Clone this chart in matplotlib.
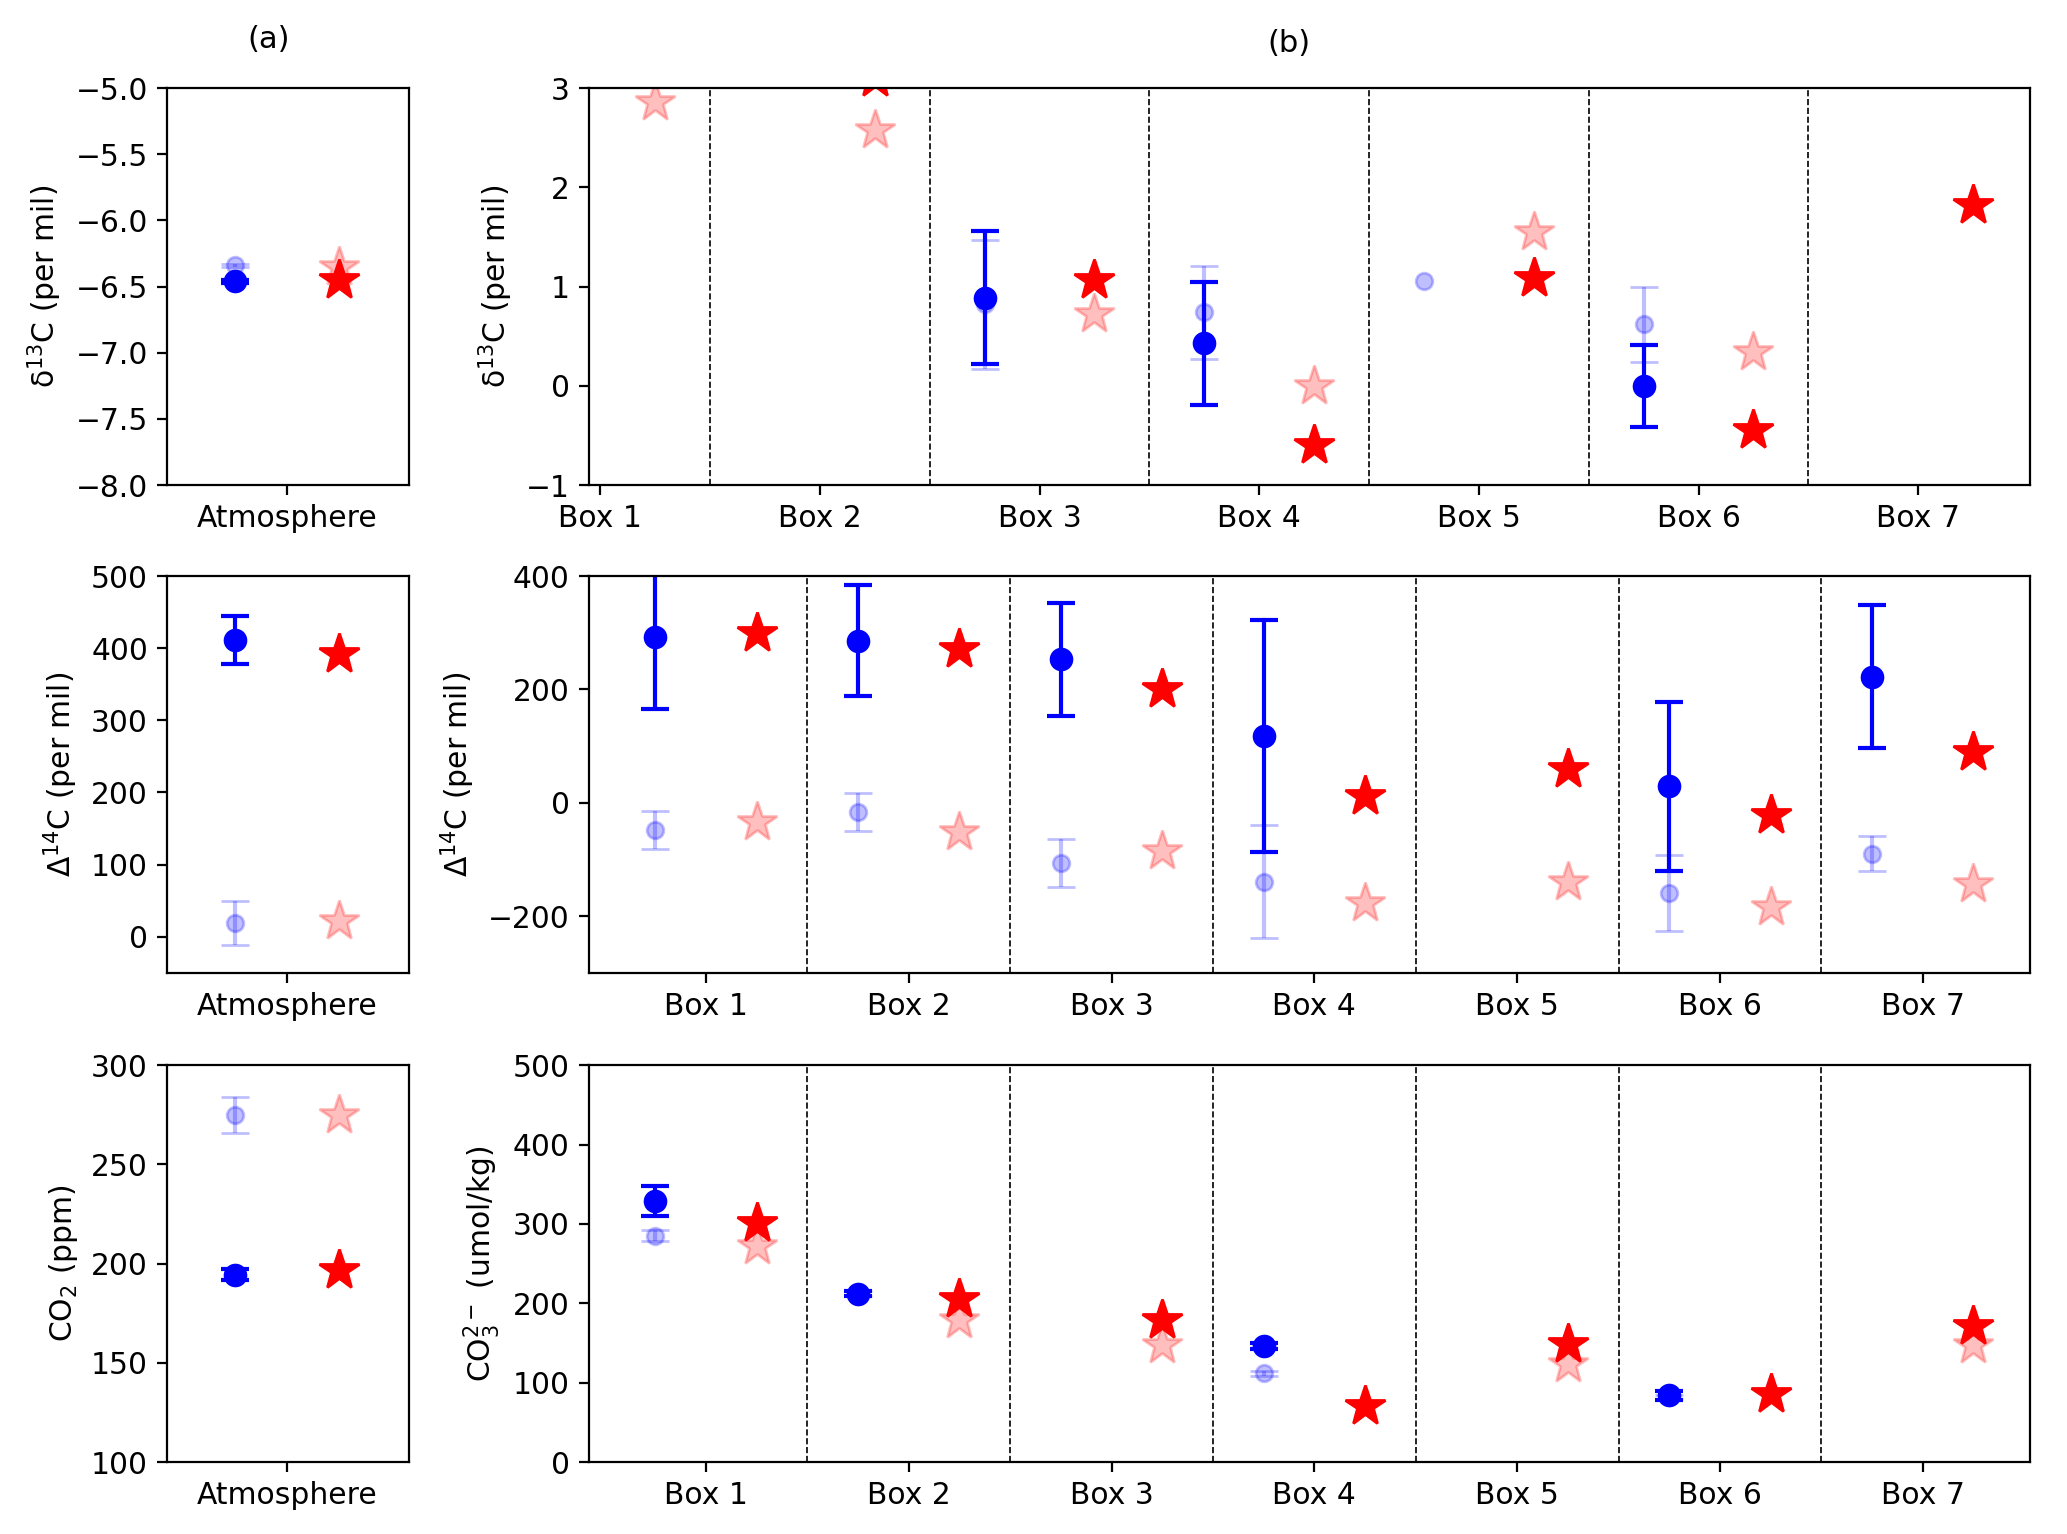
import numpy as np
import matplotlib.pyplot as plt

plt.rcParams['font.size'] = 10.7

nan = np.nan
boxes = ['Box 1', 'Box 2', 'Box 3', 'Box 4', 'Box 5', 'Box 6', 'Box 7']

# delta13C (per mil)
atm_d13c_lgm, atm_d13c_lgm_err = [-6.46], [0.01]
atm_d13c_pi, atm_d13c_pi_err = [-6.34], [0.01]
atm_d13c_mod_lgm, atm_d13c_mod_pi = [-6.45], [-6.35]
box_d13c_lgm = [nan, nan, 0.89, 0.43, nan, 0.0, nan]
box_d13c_lgm_err = [nan, nan, 0.67, 0.62, nan, 0.41, nan]
box_d13c_pi = [nan, nan, 0.82, 0.74, 1.06, 0.62, nan]
box_d13c_pi_err = [nan, nan, 0.65, 0.47, nan, 0.38, nan]
box_d13c_mod_lgm = [nan, 3.1, 1.07, -0.60, 1.09, -0.45, 1.82]
box_d13c_mod_pi = [2.86, 2.58, 0.72, 0.0, 1.55, 0.34, nan]

# Delta14C (per mil)
atm_D14c_lgm, atm_D14c_lgm_err = [411], [33]
atm_D14c_pi, atm_D14c_pi_err = [19], [31]
atm_D14c_mod_lgm, atm_D14c_mod_pi = [392], [22]
box_D14c_lgm = [292, 286, 253, 118, nan, 29, 222]
box_D14c_lgm_err = [126, 98, 100, 205, nan, 149, 126]
box_D14c_pi = [-48, -16, -106, -139, nan, -159, -90]
box_D14c_pi_err = [34, 33, 43, 100, nan, 67, 31]
box_D14c_mod_lgm = [300, 272, 200, 12, 60, -21, 89]
box_D14c_mod_pi = [-34, -52, -85, -177, -140, -184, -143]

# CO2 (ppm) and carbonate ion (umol/kg)
atm_co2_lgm, atm_co2_lgm_err = [194.5], [3]
atm_co2_pi, atm_co2_pi_err = [275], [9]
atm_co2_mod_lgm, atm_co2_mod_pi = [197], [275]
box_co3_lgm = [329, 212, nan, 146, nan, 84, nan]
box_co3_lgm_err = [19, 3, nan, 4, nan, 6, nan]
box_co3_pi = [285, 212, nan, 112, nan, 82, nan]
box_co3_pi_err = [7, 3, nan, 3, nan, 3, nan]
box_co3_mod_lgm = [301, 205, 179, 71, 149, 86, 172]
box_co3_mod_pi = [272, 179, 148, nan, 124, nan, 147]


def draw(ax, x, obs, obs_err, obs_pi, obs_pi_err, mod, mod_pi):
    x = np.asarray(x, dtype=float)
    ax.errorbar(x - 0.25, obs, yerr=obs_err, fmt='o', color='b', ms=7.5,
                capsize=5, elinewidth=1.5, capthick=1.5)
    ax.errorbar(x - 0.25, obs_pi, yerr=obs_pi_err, fmt='o', color='b', ms=6,
                capsize=5, alpha=0.25)
    ax.plot(x + 0.25, mod, '*', color='r', ms=15)
    ax.plot(x + 0.25, mod_pi, '*', color='r', ms=15, alpha=0.25)


fig = plt.figure(figsize=(10.335, 7.67), dpi=200)

lx, lw = 0.081, 0.1167
rx, rw = 0.2851, 0.6971
rows_b = [0.6838, 0.3658, 0.0469]
h = 0.2587

xb = np.arange(1, 8)

atm_data = [
    (atm_d13c_lgm, atm_d13c_lgm_err, atm_d13c_pi, atm_d13c_pi_err, atm_d13c_mod_lgm, atm_d13c_mod_pi),
    (atm_D14c_lgm, atm_D14c_lgm_err, atm_D14c_pi, atm_D14c_pi_err, atm_D14c_mod_lgm, atm_D14c_mod_pi),
    (atm_co2_lgm, atm_co2_lgm_err, atm_co2_pi, atm_co2_pi_err, atm_co2_mod_lgm, atm_co2_mod_pi),
]
box_data = [
    (box_d13c_lgm, box_d13c_lgm_err, box_d13c_pi, box_d13c_pi_err, box_d13c_mod_lgm, box_d13c_mod_pi),
    (box_D14c_lgm, box_D14c_lgm_err, box_D14c_pi, box_D14c_pi_err, box_D14c_mod_lgm, box_D14c_mod_pi),
    (box_co3_lgm, box_co3_lgm_err, box_co3_pi, box_co3_pi_err, box_co3_mod_lgm, box_co3_mod_pi),
]
atm_ylabels = ['\u03b4$^{13}$C (per mil)', r'$\Delta^{14}$C (per mil)', r'CO$_2$ (ppm)']
box_ylabels = ['\u03b4$^{13}$C (per mil)', r'$\Delta^{14}$C (per mil)', r'CO$_3^{2-}$ (umol/kg)']
atm_ylims = [(-8, -5), (-50, 500), (100, 300)]
box_ylims = [(-1, 3), (-300, 400), (0, 500)]
atm_yticks = [np.arange(-8, -4.9, 0.5), np.arange(0, 501, 100), np.arange(100, 301, 50)]
box_yticks = [np.arange(-1, 4, 1), np.arange(-200, 401, 200), np.arange(0, 501, 100)]
box_xlims = [(0.95, 7.51), (0.425, 7.53), (0.425, 7.53)]

for i in range(3):
    ax = fig.add_axes([lx, rows_b[i], lw, h])
    draw(ax, [1], *atm_data[i])
    ax.set_xlim(0.43, 1.58)
    ax.set_xticks([1], ['Atmosphere'])
    ax.set_ylim(*atm_ylims[i])
    ax.set_yticks(atm_yticks[i])
    ax.set_ylabel(atm_ylabels[i])

    ax = fig.add_axes([rx, rows_b[i], rw, h])
    draw(ax, xb, *box_data[i])
    for k in range(1, 7):
        ax.axvline(k + 0.5, color='k', ls='--', lw=0.6)
    ax.set_xlim(*box_xlims[i])
    ax.set_xticks(xb, boxes)
    ax.set_ylim(*box_ylims[i])
    ax.set_yticks(box_yticks[i])
    ax.set_ylabel(box_ylabels[i])

fig.text(0.130, 0.974, '(a)', ha='center', va='center', fontsize=11)
fig.text(0.6237, 0.9716, '(b)', ha='center', va='center', fontsize=11)

fig.savefig('out.png', dpi=200)
